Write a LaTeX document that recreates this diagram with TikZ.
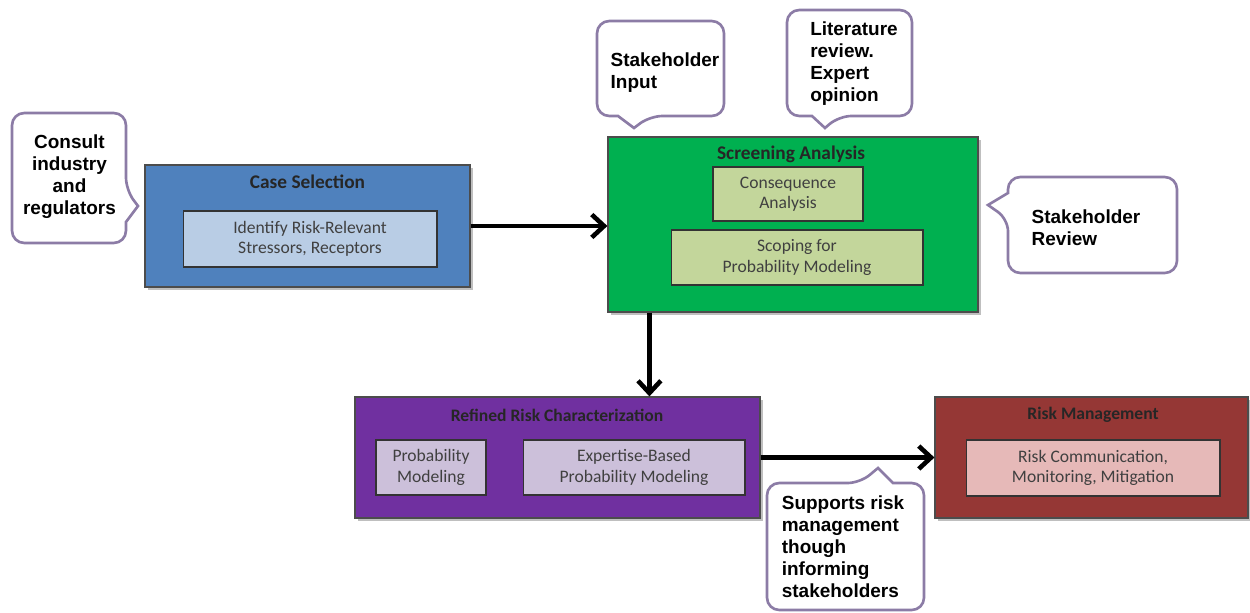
\documentclass[tikz,border=0pt]{standalone}
\usepackage{fontspec}
\setmainfont{Carlito}
\newfontfamily\bubblefont{Liberation Sans}
\usetikzlibrary{arrows.meta,shadows}

\definecolor{casefill}{RGB}{79,129,189}
\definecolor{caseinner}{RGB}{185,205,229}
\definecolor{screenfill}{RGB}{0,176,80}
\definecolor{screeninner}{RGB}{195,214,155}
\definecolor{refinedfill}{RGB}{112,48,160}
\definecolor{refinedinner}{RGB}{204,192,218}
\definecolor{rmfill}{RGB}{149,55,53}
\definecolor{rminner}{RGB}{230,185,184}
\definecolor{bubbleline}{RGB}{140,124,166}

\begin{document}
\begin{tikzpicture}[x=0.02cm, y=-0.02cm,
    stage/.style={draw=black!70, line width=0.7pt, drop shadow={shadow xshift=1.5pt, shadow yshift=-1.5pt}},
    task/.style={draw=black!80, line width=0.6pt, minimum height=1.1cm, align=center, text=black!75, font=\fontsize{10}{11.5}\selectfont},
    boxtitle/.style={font=\bfseries\fontsize{11}{13}\selectfont, text=black!85},
    flow/.style={line width=2.6pt, -{Straight Barb[length=7pt, width=13pt]}},
    bubble/.style={draw=bubbleline, line width=1.5pt, fill=white, rounded corners=7pt},
    bubbletext/.style={inner sep=1pt, align=left, font=\bubblefont\bfseries\fontsize{10.8}{12.5}\selectfont}]
    \useasboundingbox (0,0) rectangle (1250,612);

    % case selection
    \node[stage, fill=casefill, minimum width=6.5cm, minimum height=2.44cm] (cs) at (307.5,226) {};
    \node[boxtitle] (cstitle) at (307.5,182) {Case Selection};
    \node[task, fill=caseinner, minimum width=5.08cm, minimum height=1.12cm] (csid) at (310,239) {Identify Risk-Relevant\\Stressors, Receptors};

    % screening
    \node[stage, fill=screenfill, minimum width=7.4cm, minimum height=3.5cm] (sa) at (793,224.5) {};
    \node[boxtitle] (satitle) at (791,154) {Screening Analysis};
    \node[task, fill=screeninner, minimum width=3cm, minimum height=1.08cm] (ca) at (788,194) {Consequence\\Analysis};
    \node[task, fill=screeninner, minimum width=5.04cm] (sp) at (797,257.5) {Scoping for\\Probability Modeling};

    % refined risk
    \node[stage, fill=refinedfill, minimum width=8.1cm, minimum height=2.42cm] (rrc) at (557.5,457.5) {};
    \node[boxtitle, font=\bfseries\fontsize{10}{12}\selectfont] (rrctitle) at (557,415) {Refined Risk Characterization};
    \node[task, fill=refinedinner, minimum width=2.2cm] (pm) at (431,467.5) {Probability\\Modeling};
    \node[task, fill=refinedinner, minimum width=4.44cm] (ebpm) at (634,467.5) {Expertise-Based\\Probability Modeling};

    % risk management
    \node[stage, fill=rmfill, minimum width=6.26cm, minimum height=2.42cm] (rm) at (1091.5,457.5) {};
    \node[boxtitle, font=\bfseries\fontsize{10}{12}\selectfont] (rmtitle) at (1093,415) {Risk Management};
    \node[task, fill=rminner, minimum width=5.08cm, minimum height=1.12cm] (rcm) at (1093,468) {Risk Communication,\\Monitoring, Mitigation};

    \draw[flow] (cs.east) -- (cs.east -| sa.west);
    \draw[flow] ([xshift=0.84cm]sa.south west) -- ([xshift=0.84cm]sa.south west |- rrc.north);
    \draw[flow] (rrc.east) -- (rm.west);

    % callouts
    \draw[bubble] (70,113) -- (126,113) -- (126,190) [sharp corners] -- (138,206) -- (126,222) [rounded corners=7pt] -- (126,243) -- (12,243) -- (12,113) -- cycle;
    \node[bubbletext, align=center] (consult) at (69.5,177) {Consult\\industry\\and\\regulators};

    \draw[bubble] (660,21) -- (724,21) -- (724,116) -- (650,116) [sharp corners] -- (634,128) -- (618,116) [rounded corners=7pt] -- (597,116) -- (597,21) -- cycle;
    \node[bubbletext] (input) at (665,73) {Stakeholder\\Input};

    \draw[bubble] (850,10) -- (912,10) -- (912,116) -- (839,116) [sharp corners] -- (825,128) -- (812,116) [rounded corners=7pt] -- (787,116) -- (787,10) -- cycle;
    \node[bubbletext] (lit) at (854,64) {Literature\\review.\\Expert\\opinion};

    \draw[bubble] (1092,177) -- (1177,177) -- (1177,273) -- (1008,273) -- (1008,219) [sharp corners] -- (988,205) -- (1008,193) [rounded corners=7pt] -- (1008,177) -- cycle;
    \node[bubbletext] (review) at (1086,228) {Stakeholder\\Review};

    \draw[bubble] (767,546) -- (767,483) -- (860,483) [sharp corners] -- (878,468) -- (893,483) [rounded corners=7pt] -- (924,483) -- (924,610) -- (767,610) -- cycle;
    \node[bubbletext] (supports) at (843,547) {Supports risk\\management\\though\\informing\\stakeholders};
\end{tikzpicture}
\end{document}
